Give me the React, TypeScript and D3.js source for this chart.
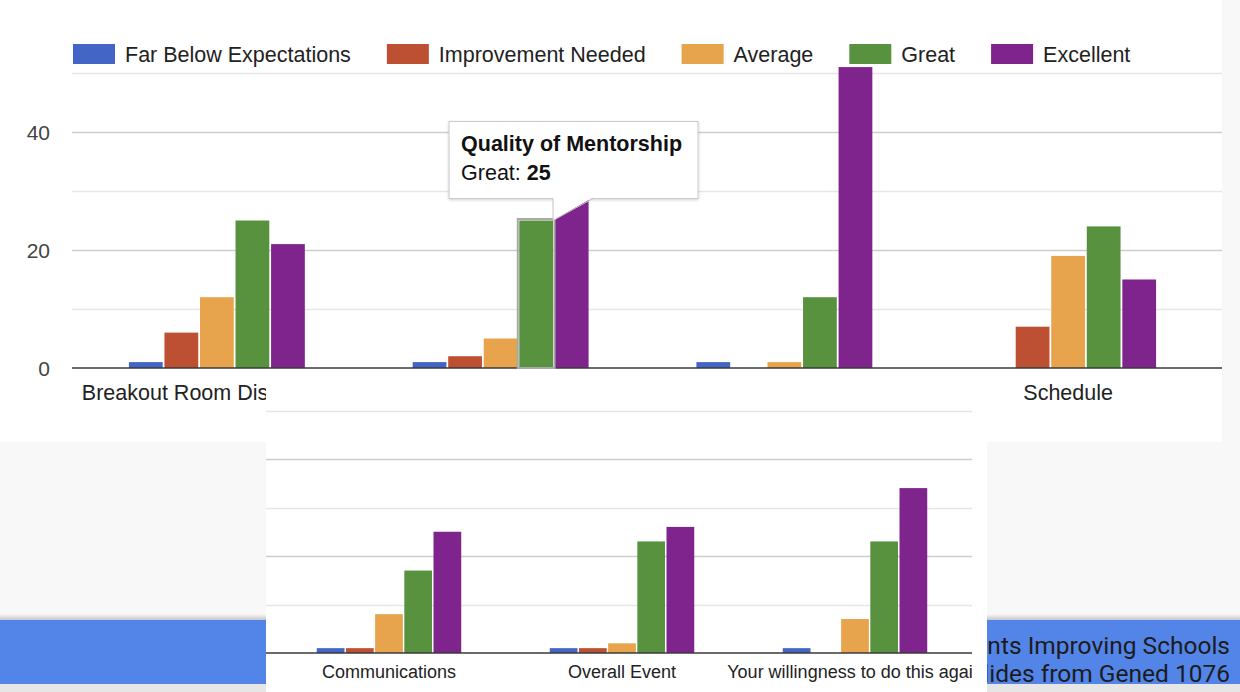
import React, { useEffect, useRef } from 'react';
import * as d3 from 'd3';

// Rating series (legend order)
const series = ['Far Below Expectations', 'Improvement Needed', 'Average', 'Great', 'Excellent'];
const seriesColors = ['#4366c6', '#bd5033', '#e8a34d', '#59923f', '#7f248c'];

// Upper screenshot of the chart
const topCategories = ['Breakout Room Discussions', 'Quality of Mentorship', 'Workshop Content', 'Schedule'];
const topFarBelow = [1, 1, 1, 0];
const topImprovement = [6, 2, 0, 7];
const topAverage = [12, 5, 1, 19];
const topGreat = [25, 25, 12, 24];
const topExcellent = [21, 32, 51, 15];

// Lower (pasted) screenshot of the same chart
const bottomCategories = ['Communications', 'Overall Event', 'Your willingness to do this again'];
const bottomFarBelow = [1, 1, 1];
const bottomImprovement = [1, 1, 0];
const bottomAverage = [8, 2, 7];
const bottomGreat = [17, 23, 23];
const bottomExcellent = [25, 26, 34];

const gridTicks = [10, 20, 30, 40, 50];
const labelTicks = [0, 20, 40];

const tooltipCategory = 'Quality of Mentorship';
const tooltipSeries = 'Great';

const bannerLines = ['Students Improving Schools', 'Slides from Gened 1076'];

const FONT = '"Liberation Sans", Arial, sans-serif';

type Sel = d3.Selection<SVGGElement, unknown, null, undefined>;

// Draws gridlines, grouped bars, baseline and category labels
function drawBars(
  g: Sel,
  cats: string[],
  values: number[][],
  x: d3.ScaleBand<string>,
  y: d3.ScaleLinear<number, number>,
  gridX0: number,
  gridX1: number,
  labelSize: number,
  labelY: number
) {
  const xs = d3.scaleBand().domain(series).range([0, x.bandwidth()]).paddingInner(0.05);

  g.selectAll('.grid')
    .data(gridTicks)
    .join('line')
    .attr('x1', gridX0)
    .attr('x2', gridX1)
    .attr('y1', d => Math.round(y(d)) + 0.5)
    .attr('y2', d => Math.round(y(d)) + 0.5)
    .attr('stroke', d => (labelTicks.includes(d) ? '#cdcdcd' : '#e6e6e6'))
    .attr('stroke-width', 1.5);

  cats.forEach((cat, i) => {
    series.forEach((s, j) => {
      const v = values[j][i];
      if (!v) return;
      g.append('rect')
        .attr('x', (x(cat) || 0) + (xs(s) || 0))
        .attr('y', y(v))
        .attr('width', xs.bandwidth())
        .attr('height', y(0) - y(v))
        .attr('fill', seriesColors[j]);
    });
  });

  g.append('line')
    .attr('x1', gridX0)
    .attr('x2', gridX1)
    .attr('y1', y(0))
    .attr('y2', y(0))
    .attr('stroke', '#3a3a3a')
    .attr('stroke-width', 1.6);

  g.selectAll('.cat')
    .data(cats)
    .join('text')
    .attr('x', d => (x(d) || 0) + x.bandwidth() / 2)
    .attr('y', labelY)
    .attr('text-anchor', 'middle')
    .style('font-family', FONT)
    .style('font-size', `${labelSize}px`)
    .style('fill', '#222')
    .text(d => d);

  return xs;
}

const App: React.FC = () => {
  const ref = useRef<SVGSVGElement>(null);

  useEffect(() => {
    if (!ref.current) return;
    const svg = d3.select(ref.current);
    svg.selectAll('*').remove();

    const defs = svg.append('defs');
    const shadow = defs.append('filter').attr('id', 'tipShadow').attr('x', '-10%').attr('y', '-10%').attr('width', '130%').attr('height', '140%');
    shadow.append('feDropShadow').attr('dx', 0).attr('dy', 1).attr('stdDeviation', 1.5).attr('flood-color', '#000').attr('flood-opacity', 0.18);
    const bannerShade = defs.append('linearGradient').attr('id', 'bannerShade').attr('x1', 0).attr('x2', 0).attr('y1', 0).attr('y2', 1);
    bannerShade.append('stop').attr('offset', '0%').attr('stop-color', '#000').attr('stop-opacity', 0);
    bannerShade.append('stop').attr('offset', '100%').attr('stop-color', '#000').attr('stop-opacity', 0.2);
    defs.append('clipPath').attr('id', 'panelClip')
      .append('rect').attr('x', 266).attr('y', 371).attr('width', 706).attr('height', 321);

    // page background
    svg.append('rect').attr('width', 1240).attr('height', 692).attr('fill', '#f8f8f8');
    svg.append('rect').attr('width', 1222).attr('height', 442).attr('fill', '#fff');

    // ---- upper chart ----
    const top = svg.append('g');
    const yTop = d3.scaleLinear().domain([0, 50]).range([368, 73]);
    const xTop = d3.scaleBand().domain(topCategories).range([75, 1210]).paddingInner(0.38).paddingOuter(0.19);
    const topValues = [topFarBelow, topImprovement, topAverage, topGreat, topExcellent];
    const xsTop = drawBars(top, topCategories, topValues, xTop, yTop, 72, 1222, 21.5, 400);

    top.selectAll('.tick')
      .data(labelTicks)
      .join('text')
      .attr('x', 50)
      .attr('y', d => yTop(d) + 7.5)
      .attr('text-anchor', 'end')
      .style('font-family', FONT)
      .style('font-size', '21px')
      .style('fill', '#444')
      .text(d => d);

    // legend
    let lx = 73;
    series.forEach((s, j) => {
      top.append('rect').attr('x', lx).attr('y', 44).attr('width', 42).attr('height', 20).attr('fill', seriesColors[j]);
      const t = top.append('text')
        .attr('x', lx + 52)
        .attr('y', 61.5)
        .style('font-family', FONT)
        .style('font-size', '21.5px')
        .style('fill', '#222')
        .text(s);
      const w = (t.node() as SVGTextElement).getComputedTextLength();
      lx += 52 + w + 36;
    });

    // hovered bar + tooltip
    const si = series.indexOf(tooltipSeries);
    const ci = topCategories.indexOf(tooltipCategory);
    const hv = topValues[si][ci];
    const hx = (xTop(tooltipCategory) || 0) + (xsTop(tooltipSeries) || 0);
    top.append('rect')
      .attr('x', hx - 1.5)
      .attr('y', yTop(hv) - 1.5)
      .attr('width', xsTop.bandwidth() + 3)
      .attr('height', yTop(0) - yTop(hv) + 1.5)
      .attr('fill', 'none')
      .attr('stroke', '#a8a8a8')
      .attr('stroke-width', 2);

    const tipX = hx + xsTop.bandwidth();
    const tipY = yTop(hv);
    const bx = tipX - 104;
    const by = tipY - 99;
    const bw = 249;
    const bh = 77;
    const tip = top.append('g');
    tip.append('rect')
      .attr('x', bx).attr('y', by).attr('width', bw).attr('height', bh)
      .attr('fill', '#fff').attr('stroke', '#cbcbcb').attr('stroke-width', 1)
      .attr('filter', 'url(#tipShadow)');
    tip.append('path')
      .attr('d', `M${tipX},${by + bh - 1} L${tipX},${tipY} L${tipX + 40},${by + bh - 1} Z`)
      .attr('fill', '#fff');
    tip.append('path')
      .attr('d', `M${tipX},${by + bh} L${tipX},${tipY} L${tipX + 40},${by + bh}`)
      .attr('fill', 'none')
      .attr('stroke', '#c4c4c4')
      .attr('stroke-width', 1);
    tip.append('text')
      .attr('x', bx + 12)
      .attr('y', by + 29)
      .style('font-family', FONT)
      .style('font-size', '21.5px')
      .style('font-weight', 'bold')
      .style('fill', '#111')
      .text(tooltipCategory);
    const line2 = tip.append('text')
      .attr('x', bx + 12)
      .attr('y', by + 58)
      .style('font-family', FONT)
      .style('font-size', '21.5px')
      .style('fill', '#111');
    line2.append('tspan').text(`${tooltipSeries}: `);
    line2.append('tspan').style('font-weight', 'bold').text(String(hv));

    // ---- blue slide banner ----
    svg.append('rect').attr('x', 0).attr('y', 614).attr('width', 1240).attr('height', 6).attr('fill', 'url(#bannerShade)');
    svg.append('rect').attr('x', 0).attr('y', 620).attr('width', 1240).attr('height', 64).attr('fill', '#5385e9');
    svg.append('rect').attr('x', 0).attr('y', 684).attr('width', 1240).attr('height', 8).attr('fill', '#e6e6e6');
    bannerLines.forEach((l, i) => {
      svg.append('text')
        .attr('x', 1230)
        .attr('y', 654 + i * 28)
        .attr('text-anchor', 'end')
        .style('font-family', 'Roboto, "Noto Sans", sans-serif')
        .style('font-size', '24.5px')
        .style('fill', '#1c1c1c')
        .text(l);
    });

    // ---- lower pasted panel ----
    svg.append('rect').attr('x', 266).attr('y', 371).attr('width', 721).attr('height', 321).attr('fill', '#fff');
    const bottom = svg.append('g').attr('clip-path', 'url(#panelClip)');
    const yBot = d3.scaleLinear().domain([0, 50]).range([653, 410.5]);
    const xBot = d3.scaleBand().domain(bottomCategories).range([272.5, 971.5]).paddingInner(0.38).paddingOuter(0.19);
    const bottomValues = [bottomFarBelow, bottomImprovement, bottomAverage, bottomGreat, bottomExcellent];
    drawBars(bottom, bottomCategories, bottomValues, xBot, yBot, 266, 972, 18, 678);
  }, []);

  return (
    <div style={{ position: 'absolute', left: 0, top: 0, width: 1240, height: 692 }}>
      <svg ref={ref} width={1240} height={692} style={{ display: 'block' }} />
    </div>
  );
};

export default App;
